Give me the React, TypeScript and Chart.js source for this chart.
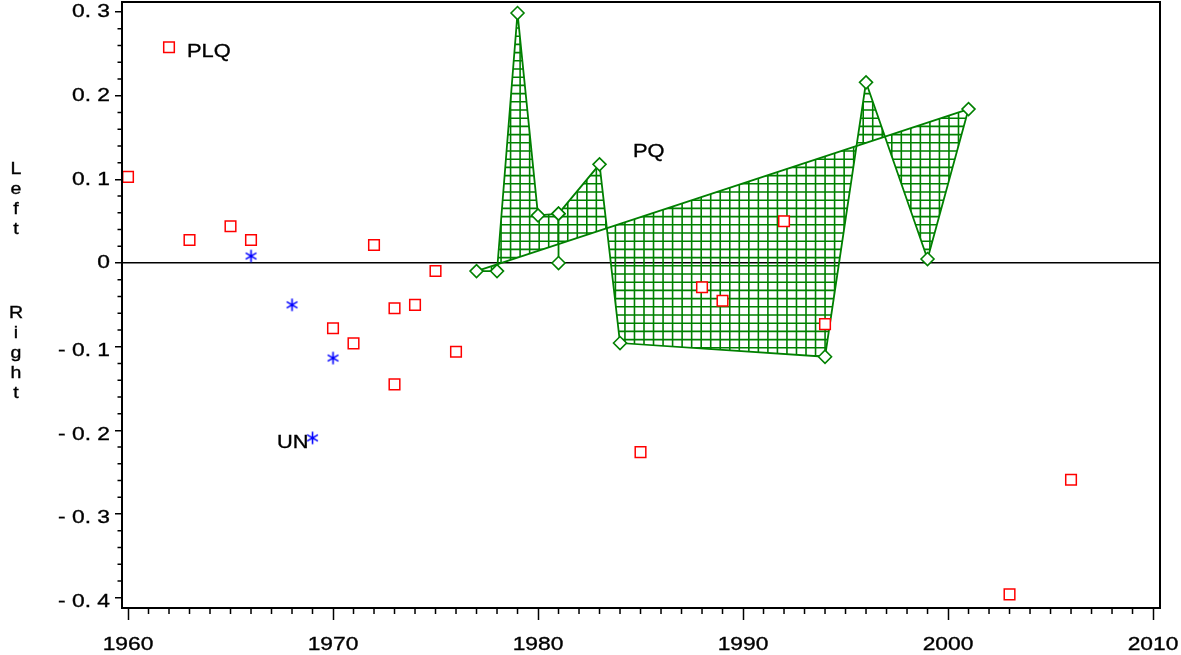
import React, { useEffect, useRef } from "react";
import { Chart, registerables } from "chart.js";

Chart.register(...registerables);

// ---------- data ----------
const plqYears = [1960, 1962, 1963, 1965, 1966, 1970, 1971, 1972, 1973, 1973, 1974, 1975, 1976, 1985, 1988, 1989, 1992, 1994, 2003, 2006];
const plqValues = [0.103, 0.258, 0.0275, 0.044, 0.0275, -0.078, -0.096, 0.0215, -0.054, -0.145, -0.05, -0.0095, -0.106, -0.226, -0.029, -0.045, 0.05, -0.073, -0.396, -0.259];

const unYears = [1966, 1968, 1969, 1970];
const unValues = [0.0084, -0.05, -0.209, -0.1135];

const pqYears = [1977, 1978, 1979, 1980, 1981, 1981, 1981, 1983, 1984, 1994, 1996, 1999, 2001];
const pqValues = [-0.0096, -0.0096, 0.2988, 0.057, 0.059, 0.0, 0.059, 0.118, -0.0956, -0.112, 0.216, 0.0048, 0.184];

const xTickValues = [1960, 1970, 1980, 1990, 2000, 2010];
const xTickLabels = ["1960", "1970", "1980", "1990", "2000", "2010"];
const yTickValues = [0.3, 0.2, 0.1, 0, -0.1, -0.2, -0.3, -0.4];
const yTickLabels = ["0. 3", "0. 2", "0. 1", "0", "- 0. 1", "- 0. 2", "- 0. 3", "- 0. 4"];

const seriesNames = ["PLQ", "UN", "PQ"];
const nameYears = [1962.88, 1967.27, 1984.63];
const nameValues = [0.2462, -0.2211, 0.1267];

const X_MIN = 1959.707;
const X_MAX = 2010.34;
const Y_MIN = -0.4123;
const Y_MAX = 0.312;

// ---------- styles ----------
const GREEN = "#008000";
const RED = "#ff0000";
const BLUE = "#0000ff";
const FONT = '"Liberation Sans", Arial, sans-serif';

function stretchText(
  ctx: CanvasRenderingContext2D,
  text: string,
  x: number,
  y: number,
  align: CanvasTextAlign,
  baseline: CanvasTextBaseline,
  size: number,
  sx: number
) {
  ctx.save();
  ctx.translate(x, y);
  ctx.scale(sx, 1);
  ctx.font = `${size}px ${FONT}`;
  ctx.fillStyle = "#000";
  ctx.strokeStyle = "#000";
  ctx.lineWidth = 0.35;
  ctx.textAlign = align;
  ctx.textBaseline = baseline;
  ctx.fillText(text, 0, 0);
  ctx.strokeText(text, 0, 0);
  ctx.restore();
}

function makeAsterisk(): HTMLCanvasElement {
  const c = document.createElement("canvas");
  c.width = 15;
  c.height = 15;
  const g = c.getContext("2d")!;
  g.strokeStyle = BLUE;
  g.lineWidth = 1.6;
  const cx = 7.5, cy = 7.5, r = 6.2;
  g.beginPath();
  for (const a of [90, 30, 150]) {
    const rad = (a * Math.PI) / 180;
    g.moveTo(cx - r * Math.cos(rad), cy - r * Math.sin(rad));
    g.lineTo(cx + r * Math.cos(rad), cy + r * Math.sin(rad));
  }
  g.stroke();
  return c;
}

const customPlugin = {
  id: "customDraw",
  beforeDatasetsDraw(chart: any) {
    const { ctx, chartArea } = chart;
    const pts = chart.getDatasetMeta(2).data;
    if (!pts.length) return;
    // cross-hatched fill of the closed PQ polygon
    ctx.save();
    ctx.beginPath();
    pts.forEach((p: any, i: number) => (i ? ctx.lineTo(p.x, p.y) : ctx.moveTo(p.x, p.y)));
    ctx.closePath();
    ctx.clip();
    ctx.strokeStyle = GREEN;
    ctx.lineWidth = 1.6;
    ctx.beginPath();
    const x0 = 644, dx = 9.53, y0 = 274, dy = 8.2;
    for (let x = x0 - Math.ceil((x0 - chartArea.left) / dx) * dx; x <= chartArea.right; x += dx) {
      ctx.moveTo(x, chartArea.top);
      ctx.lineTo(x, chartArea.bottom);
    }
    for (let y = y0 - Math.ceil((y0 - chartArea.top) / dy) * dy; y <= chartArea.bottom; y += dy) {
      ctx.moveTo(chartArea.left, y);
      ctx.lineTo(chartArea.right, y);
    }
    ctx.stroke();
    ctx.restore();
    // closing segment of the polygon
    const first = pts[0], last = pts[pts.length - 1];
    ctx.save();
    ctx.strokeStyle = GREEN;
    ctx.lineWidth = 1.8;
    ctx.beginPath();
    ctx.moveTo(last.x, last.y);
    ctx.lineTo(first.x, first.y);
    ctx.stroke();
    ctx.restore();
  },
  afterDraw(chart: any) {
    const { ctx, chartArea, scales } = chart;
    const xs = scales.x, ys = scales.y;
    ctx.save();
    // frame
    ctx.strokeStyle = "#000";
    ctx.lineWidth = 2;
    ctx.strokeRect(chartArea.left, chartArea.top, chartArea.right - chartArea.left, chartArea.bottom - chartArea.top);
    // minor ticks
    ctx.lineWidth = 1.5;
    ctx.beginPath();
    for (let k = -20; k <= 15; k++) {
      if (k % 5 === 0) continue;
      const y = ys.getPixelForValue(k * 0.02);
      ctx.moveTo(chartArea.left - 4.5, y);
      ctx.lineTo(chartArea.left, y);
    }
    for (let yr = 1960; yr <= 2010; yr++) {
      if (yr % 10 === 0) continue;
      const x = xs.getPixelForValue(yr);
      ctx.moveTo(x, chartArea.bottom);
      ctx.lineTo(x, chartArea.bottom + 6);
    }
    ctx.stroke();
    ctx.restore();

    // tick labels
    yTickValues.forEach((v, i) => {
      const y = ys.getPixelForValue(v) + (v < 0 ? 4 : 0);
      stretchText(ctx, yTickLabels[i], 110, y, "right", "middle", 19, 1.2);
    });
    xTickValues.forEach((v, i) => {
      const x = xs.getPixelForValue(v);
      stretchText(ctx, xTickLabels[i], x, 650, "center", "alphabetic", 19, 1.2);
    });

    // axis title, letter by letter
    "Left".split("").forEach((ch, i) => stretchText(ctx, ch, 16, 174 + i * 20, "center", "alphabetic", 17, 1.15));
    "Right".split("").forEach((ch, i) => stretchText(ctx, ch, 16, 318 + i * 20, "center", "alphabetic", 17, 1.15));

    // series names
    seriesNames.forEach((name, i) => {
      const x = xs.getPixelForValue(nameYears[i]);
      const y = ys.getPixelForValue(nameValues[i]);
      stretchText(ctx, name, x, y, "left", "alphabetic", 19, 1.15);
    });
  },
};

export default function App() {
  const canvasRef = useRef<HTMLCanvasElement | null>(null);

  useEffect(() => {
    document.body.style.margin = "0";
    const canvas = canvasRef.current;
    if (!canvas) return;
    const asterisk = makeAsterisk();

    const chart = new Chart(canvas, {
      type: "scatter",
      data: {
        datasets: [
          {
            label: "PLQ",
            data: plqYears.map((x, i) => ({ x, y: plqValues[i] })),
            pointStyle: "rect",
            pointRadius: 7.5,
            pointBorderColor: RED,
            pointBackgroundColor: "#ffffff",
            pointBorderWidth: 1.5,
            showLine: false,
          },
          {
            label: "UN",
            data: unYears.map((x, i) => ({ x, y: unValues[i] })),
            pointStyle: asterisk as any,
            pointRadius: 6,
            showLine: false,
          },
          {
            label: "PQ",
            data: pqYears.map((x, i) => ({ x, y: pqValues[i] })),
            pointStyle: "rectRot",
            pointRadius: 6.5,
            pointBorderColor: GREEN,
            pointBackgroundColor: "#ffffff",
            pointBorderWidth: 1.6,
            showLine: true,
            borderColor: GREEN,
            borderWidth: 1.8,
            fill: false,
            tension: 0,
          } as any,
        ],
      },
      options: {
        responsive: false,
        animation: false,
        devicePixelRatio: 1,
        layout: { autoPadding: false, padding: { top: 2, right: 21, bottom: 0, left: 0 } },
        plugins: { legend: { display: false }, tooltip: { enabled: false } },
        scales: {
          x: {
            type: "linear",
            min: X_MIN,
            max: X_MAX,
            afterBuildTicks: (s: any) => {
              s.ticks = xTickValues.map((v) => ({ value: v }));
            },
            afterFit: (s: any) => {
              s.height = 47;
              s.paddingLeft = 0;
              s.paddingRight = 0;
            },
            ticks: { display: false },
            border: { display: false },
            grid: {
              drawOnChartArea: false,
              drawTicks: true,
              tickLength: 12,
              tickColor: "#000",
              tickWidth: 1.5,
            },
          },
          y: {
            type: "linear",
            min: Y_MIN,
            max: Y_MAX,
            afterBuildTicks: (s: any) => {
              s.ticks = yTickValues.map((v) => ({ value: v }));
            },
            afterFit: (s: any) => {
              s.width = 122;
              s.paddingTop = 0;
              s.paddingBottom = 0;
            },
            ticks: { display: false },
            border: { display: false },
            grid: {
              drawOnChartArea: true,
              color: (c: any) => (c.tick && c.tick.value === 0 ? "#000" : "rgba(0,0,0,0)"),
              lineWidth: 1.5,
              drawTicks: true,
              tickLength: 7,
              tickColor: "#000",
              tickWidth: 1.5,
            },
          },
        },
      },
      plugins: [customPlugin],
    });

    return () => chart.destroy();
  }, []);

  return (
    <div style={{ width: 1181, height: 655 }}>
      <canvas ref={canvasRef} width={1181} height={655} style={{ display: "block" }} />
    </div>
  );
}
